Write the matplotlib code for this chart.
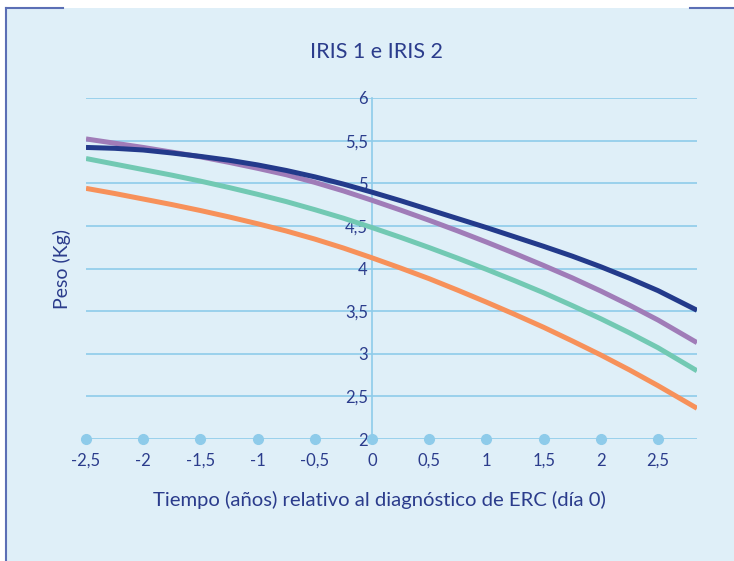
import matplotlib.pyplot as plt
from matplotlib.patches import Rectangle
from matplotlib.lines import Line2D

# datos
tiempo = [-2.5, -2.25, -2.0, -1.75, -1.5, -1.25, -1.0, -0.75, -0.5, -0.25, 0.0,
          0.25, 0.5, 0.75, 1.0, 1.25, 1.5, 1.75, 2.0, 2.25, 2.5, 2.84]
peso_azul = [5.42, 5.41, 5.39, 5.355, 5.315, 5.27, 5.215, 5.15, 5.075, 4.99, 4.895,
             4.795, 4.69, 4.585, 4.48, 4.37, 4.26, 4.145, 4.02, 3.885, 3.74, 3.51]
peso_morado = [5.52, 5.47, 5.42, 5.365, 5.31, 5.245, 5.175, 5.10, 5.01, 4.91, 4.80,
               4.685, 4.565, 4.44, 4.31, 4.175, 4.035, 3.89, 3.735, 3.57, 3.395, 3.13]
peso_verde = [5.29, 5.225, 5.16, 5.095, 5.025, 4.95, 4.87, 4.785, 4.69, 4.59, 4.48,
              4.365, 4.245, 4.12, 3.99, 3.855, 3.715, 3.565, 3.41, 3.245, 3.07, 2.80]
peso_naranja = [4.94, 4.88, 4.815, 4.75, 4.68, 4.605, 4.525, 4.44, 4.345, 4.24, 4.125,
                4.005, 3.88, 3.745, 3.605, 3.46, 3.31, 3.15, 2.985, 2.81, 2.625, 2.36]

x_ticks = [-2.5, -2, -1.5, -1, -0.5, 0, 0.5, 1, 1.5, 2, 2.5]
x_labels = ['-2,5', '-2', '-1,5', '-1', '-0,5', '0', '0,5', '1', '1,5', '2', '2,5']
y_ticks = [2, 2.5, 3, 3.5, 4, 4.5, 5, 5.5, 6]
y_labels = ['2', '2,5', '3', '3,5', '4', '4,5', '5', '5,5', '6']

fondo = '#dfeff8'
rejilla = '#8ecbea'
texto = '#2b3c8c'

plt.rcParams['font.family'] = ['Lato', 'DejaVu Sans']

fig = plt.figure(figsize=(7.34, 5.61), dpi=100)
W, H = 734, 561

# fondo y marco
fig.patches.append(Rectangle((6 / W, 0), 1 - 6 / W, 1 - 8 / H, transform=fig.transFigure,
                             facecolor=fondo, edgecolor='none', zorder=-5))
marco = '#5b6fb5'
fig.lines.append(Line2D([6 / W, 6 / W], [0, 1 - 8 / H], transform=fig.transFigure, color=marco, lw=1.5, zorder=-4))
fig.lines.append(Line2D([6 / W, 63 / W], [1 - 8 / H, 1 - 8 / H], transform=fig.transFigure, color=marco, lw=1.5, zorder=-4))
fig.lines.append(Line2D([690 / W, 1], [1 - 8 / H, 1 - 8 / H], transform=fig.transFigure, color=marco, lw=1.5, zorder=-4))

ax = fig.add_axes([86 / W, 1 - 439 / H, (697 - 86) / W, (439 - 98) / H])
ax.set_facecolor('none')

ax.plot(tiempo, peso_naranja, color='#f7915a', lw=3.6, solid_capstyle='butt', zorder=3)
ax.plot(tiempo, peso_verde, color='#72c9b3', lw=3.6, solid_capstyle='butt', zorder=3)
ax.plot(tiempo, peso_morado, color='#a07cb8', lw=3.6, solid_capstyle='butt', zorder=3)
ax.plot(tiempo, peso_azul, color='#233a8b', lw=3.6, solid_capstyle='butt', zorder=4)

ax.set_xlim(-2.5, 2.84)
ax.set_ylim(2, 6)

for yv in y_ticks:
    ax.axhline(yv, color=rejilla, lw=1.2, zorder=1)
ax.plot(x_ticks, [2] * len(x_ticks), 'o', color=rejilla, ms=7, clip_on=False, zorder=2)

for s in ['top', 'right', 'bottom']:
    ax.spines[s].set_visible(False)
ax.spines['left'].set_position(('data', 0))
ax.spines['left'].set_color(rejilla)
ax.spines['left'].set_linewidth(1.2)

ax.set_yticks(y_ticks)
ax.set_yticklabels(y_labels)
ax.set_xticks(x_ticks)
ax.set_xticklabels(x_labels)
ax.tick_params(axis='y', length=0, pad=3, labelsize=12, labelcolor=texto)
ax.tick_params(axis='x', length=0, pad=10, labelsize=12, labelcolor=texto)

ax.set_xlabel('Tiempo (años) relativo al diagnóstico de ERC (día 0)', fontsize=14.6, color=texto)
ax.xaxis.set_label_coords((379 - 86) / (697 - 86), -(500 - 439) / (439 - 98))
ax.xaxis.label.set_va('center')
fig.text(62 / W, 1 - 269 / H, 'Peso (Kg)', rotation=90, ha='center', va='center', fontsize=14, color=texto)
fig.text(376 / W, 1 - 52 / H, 'IRIS 1 e IRIS 2', ha='center', va='center', fontsize=15.5, color=texto)

fig.savefig('out.png', dpi=100, facecolor='white')
